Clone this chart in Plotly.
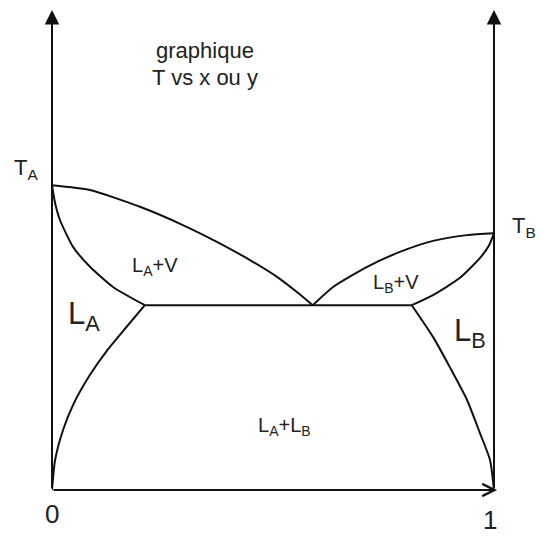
import plotly.graph_objects as go

# Composition (mole fraction of B) and reduced temperature read along each boundary
vap_left_x = [0.0, 0.086, 0.199, 0.296, 0.373, 0.448, 0.509, 0.554, 0.590]
vap_left_t = [0.635, 0.625, 0.590, 0.552, 0.517, 0.479, 0.444, 0.4125, 0.385]

liq_a_x = [0.0, 0.007, 0.018, 0.048, 0.086, 0.138, 0.210]
liq_a_t = [0.635, 0.598, 0.5625, 0.506, 0.465, 0.423, 0.385]

vap_right_x = [0.590, 0.636, 0.713, 0.787, 0.862, 0.939, 1.0]
vap_right_t = [0.385, 0.423, 0.465, 0.496, 0.519, 0.531, 0.535]

liq_b_x = [0.814, 0.862, 0.923, 0.968, 0.989, 1.0]
liq_b_t = [0.385, 0.406, 0.442, 0.483, 0.510, 0.535]

sol_a_x = [0.0, 0.007, 0.025, 0.048, 0.086, 0.124, 0.167, 0.210]
sol_a_t = [0.0, 0.0625, 0.125, 0.178, 0.240, 0.290, 0.338, 0.385]

sol_b_x = [0.814, 0.862, 0.900, 0.939, 0.968, 0.991, 1.0]
sol_b_t = [0.385, 0.319, 0.256, 0.1875, 0.119, 0.0625, 0.0]

# three-phase line L_A + L_B + V
tie_x = [0.210, 0.814]
tie_t = [0.385, 0.385]

LINE = "#111111"
TEXT = "#222222"
FONT = "Liberation Sans, Arial, sans-serif"

fig = go.Figure()

curves = [
    (vap_left_x, vap_left_t),
    (liq_a_x, liq_a_t),
    (vap_right_x, vap_right_t),
    (liq_b_x, liq_b_t),
    (sol_a_x, sol_a_t),
    (sol_b_x, sol_b_t),
]
for cx, ct in curves:
    fig.add_trace(go.Scatter(
        x=cx, y=ct, mode="lines",
        line=dict(color=LINE, width=2, shape="spline", smoothing=0.6),
        cliponaxis=False, hoverinfo="skip", showlegend=False,
    ))
fig.add_trace(go.Scatter(
    x=tie_x, y=tie_t, mode="lines",
    line=dict(color=LINE, width=2),
    cliponaxis=False, hoverinfo="skip", showlegend=False,
))

annotations = []

# axes drawn as arrows: two temperature axes and the composition axis
for ax_x in (0.0, 1.0):
    annotations.append(dict(
        x=ax_x, y=1.0, ax=ax_x, ay=0.0, xref="x", yref="y", axref="x", ayref="y",
        text="", showarrow=True, arrowhead=2, arrowsize=1.45, arrowwidth=2,
        arrowcolor=LINE,
    ))
annotations.append(dict(
    x=1.007, y=0.0, ax=0.0, ay=0.0, xref="x", yref="y", axref="x", ayref="y",
    text="", showarrow=True, arrowhead=5, arrowsize=1.2, arrowwidth=2,
    arrowcolor=LINE,
))

# plot area spans the full paper domain, so paper fractions equal data units
labels = [
    ("graphique", 0.346, 0.888, 22, "bottom"),
    ("T vs x ou y", 0.346, 0.888, 22, "top"),
    ("T<sub>A</sub>", -0.058, 0.668, 22, "middle"),
    ("T<sub>B</sub>", 1.068, 0.547, 22, "middle"),
    ("L<sub>A</sub>", 0.072, 0.362, 31, "middle"),
    ("L<sub>B</sub>", 0.945, 0.328, 31, "middle"),
    ("L<sub>A</sub>+V", 0.233, 0.466, 20, "middle"),
    ("L<sub>B</sub>+V", 0.778, 0.430, 20, "middle"),
    ("L<sub>A</sub>+L<sub>B</sub>", 0.525, 0.132, 20, "middle"),
    ("0", 0.0, -0.050, 26, "middle"),
    ("1", 0.991, -0.062, 26, "middle"),
]
for txt, lx, ly, size, yanc in labels:
    annotations.append(dict(
        x=lx, y=ly, xref="paper", yref="paper", text=txt, showarrow=False,
        font=dict(family=FONT, size=size, color=TEXT),
        xanchor="center", yanchor=yanc, borderpad=0,
    ))

fig.update_layout(
    width=543, height=536,
    margin=dict(l=52, r=49, t=10, b=46),
    paper_bgcolor="white", plot_bgcolor="white",
    xaxis=dict(range=[0, 1], visible=False, fixedrange=True),
    yaxis=dict(range=[0, 1], visible=False, fixedrange=True),
    annotations=annotations,
    showlegend=False,
)

fig.write_html("out.html")
